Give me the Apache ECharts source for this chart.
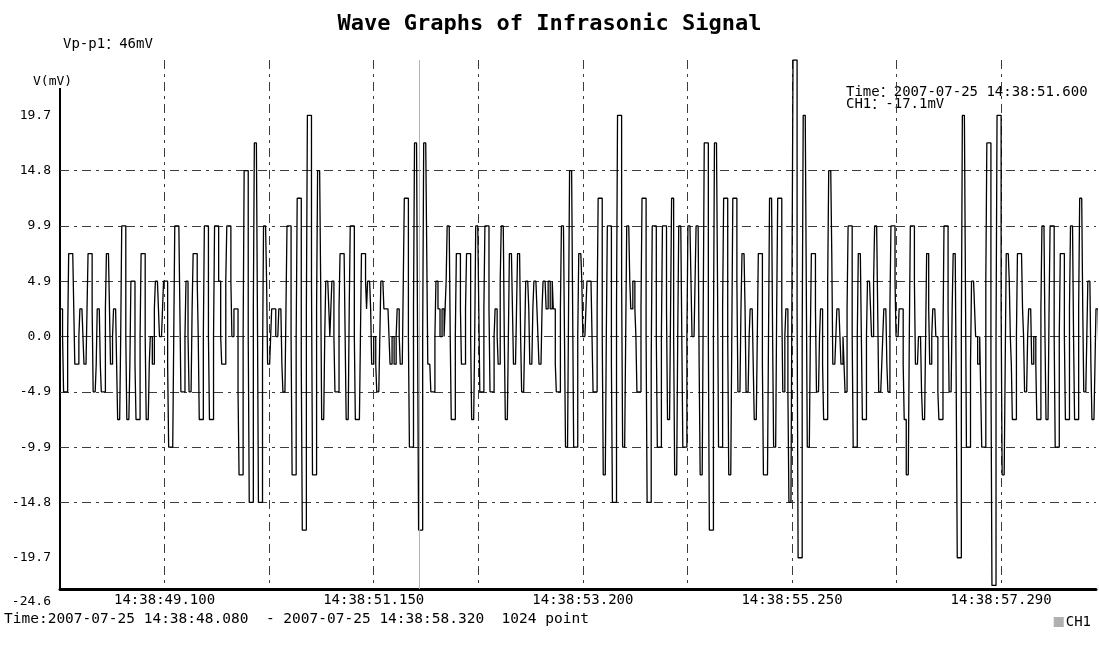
<!DOCTYPE html>
<html>
<head>
<meta charset="utf-8">
<title>Wave Graphs of Infrasonic Signal</title>
<script src="https://cdn.jsdelivr.net/npm/echarts@6/dist/echarts.min.js"></script>
<style>
  html, body { margin: 0; padding: 0; background: #fff; }
  .echarts_1 { width: 1099px; height: 655px; }
</style>
</head>
<body>
<div class="echarts_1"></div>
<script>
// ADC codes, one per sample (10 ms apart); 1 code = 2.46 mV
var codes = [
  1,1,0,-2,-2,-2,-2,0,3,3, 3,3,3,1,-1,-1,-1,-1,0,1,
  1,1,0,-1,-1,-1,1,3,3,3, 3,1,-2,-2,-2,-1,1,1,1,-1,
  -2,-2,-2,-2,1,3,3,3,1,-1, -1,0,1,1,1,-1,-3,-3,-3,0,
  4,4,4,4,0,-3,-3,-3,-1,2, 2,2,2,-1,-3,-3,-3,-3,0,3,
  3,3,3,0,-3,-3,-3,-1,0,0, -1,-1,1,2,2,2,1,0,0,0,
  1,2,2,2,2,-1,-4,-4,-4,-4, -4,0,4,4,4,4,4,1,-2,-2,
  -2,-2,0,2,2,0,-2,-2,-2,1, 3,3,3,3,2,0,-3,-3,-3,-3,
  0,4,4,4,4,0,-3,-3,-3,-3, 0,4,4,4,4,2,2,0,-1,-1,
  -1,-1,2,4,4,4,4,2,0,0, 1,1,1,1,-2,-5,-5,-5,-5,0,
  6,6,6,6,0,-6,-6,-6,-6,1, 7,7,7,1,-6,-6,-6,-6,-1,4,
  4,4,2,-1,-1,-1,0,1,1,1, 1,0,0,0,1,1,1,-1,-2,-2,
  -2,1,4,4,4,4,0,-5,-5,-5, -5,0,5,5,5,5,-1,-7,-7,-7,
  -7,1,8,8,8,8,2,-5,-5,-5, -5,1,6,6,6,2,-3,-3,-3,0,
  2,2,2,1,0,1,2,2,0,-2, -2,-2,-2,1,3,3,3,3,3,0,
  -3,-3,-3,1,4,4,4,4,0,-3, -3,-3,-3,-3,0,3,3,3,3,2,
  1,2,2,2,1,-1,-1,0,0,-1, -2,-2,-2,0,2,2,2,1,1,1,
  1,1,0,-1,-1,0,0,-1,-1,0, 1,1,0,-1,-1,-1,2,5,5,5,
  5,0,-4,-4,-4,-4,1,7,7,7, 0,-7,-7,-7,-7,0,7,7,7,3,
  -1,-1,-1,-2,-2,-2,-2,0,2,2, 1,1,0,0,1,1,0,1,2,4,
  4,4,0,-3,-3,-3,-3,0,3,3, 3,3,1,-1,-1,-1,-1,1,3,3,
  3,3,0,-3,-3,-3,0,4,4,4, 1,-2,-2,-2,-2,1,4,4,4,4,
  1,-2,-2,-2,-2,0,1,1,0,-1, -1,2,4,4,4,0,-3,-3,-3,0,
  3,3,3,1,-1,-1,-1,1,3,3, 3,0,-2,-2,-2,0,2,2,2,1,
  -1,-1,-1,1,2,2,2,1,0,-1, -1,-1,1,2,2,2,1,1,2,2,
  1,1,2,1,1,-1,-2,-2,-2,-2, 1,4,4,4,0,-4,-4,-4,1,6,
  6,6,1,-4,-4,-4,-4,0,3,3, 3,2,0,0,0,1,2,2,2,2,
  2,0,-2,-2,-2,-2,1,5,5,5, 5,0,-5,-5,-5,0,4,4,4,4,
  -1,-6,-6,-6,-6,1,8,8,8,8, 2,-4,-4,-4,0,4,4,4,2,1,
  1,2,2,1,0,-2,-2,-2,-2,1, 5,5,5,5,0,-6,-6,-6,-6,-1,
  4,4,4,4,0,-4,-4,-4,-4,0, 4,4,4,4,1,-3,-3,-3,1,5,
  5,0,-5,-5,-5,0,4,4,4,0, -4,-4,-4,-4,0,4,4,4,2,0,
  0,0,2,4,4,4,-1,-5,-5,-5, 1,7,7,7,7,0,-7,-7,-7,-7,
  0,7,7,7,2,-4,-4,-4,-4,1, 5,5,5,5,0,-5,-5,-5,0,5,
  5,5,5,2,-2,-2,-2,1,3,3, 3,1,-2,-2,-2,0,1,1,1,-1,
  -3,-3,-3,0,3,3,3,3,-1,-5, -5,-5,-5,-5,0,5,5,5,0,-4,
  -4,-4,1,5,5,5,5,1,-2,-2, 0,1,1,-2,-6,-6,-6,2,10,10,
  10,10,1,-8,-8,-8,-8,0,8,8, 8,2,-4,-4,-4,0,3,3,3,3,
  1,-2,-2,-2,0,1,1,-1,-3,-3, -3,-3,2,6,6,6,3,-1,-1,-1,
  0,1,1,1,0,-1,-1,0,-1,-2, -2,1,4,4,4,4,0,-4,-4,-4,
  -4,0,3,3,3,0,-3,-3,-3,-3, 0,2,2,2,1,0,0,2,4,4,
  4,1,-2,-2,-2,-1,0,1,1,1, -1,-2,-2,1,4,4,4,4,2,0,
  0,0,1,1,1,1,-1,-3,-3,-5, -5,-5,0,4,4,4,4,2,-1,-1,
  -1,0,0,0,-2,-3,-3,-3,0,3, 3,1,-1,-1,0,1,1,1,0,0,
  -2,-3,-3,-3,-3,0,4,4,4,4, 1,-2,-2,-2,1,3,3,3,-2,-8,
  -8,-8,-8,0,8,8,8,2,-4,-4, -4,-4,-1,2,2,2,1,0,0,-1,
  -1,0,-2,-4,-4,-4,-4,2,7,7, 7,7,-1,-9,-9,-9,-9,0,8,8,
  8,8,1,-5,-5,-5,-1,3,3,3, 2,0,-1,-3,-3,-3,-3,0,3,3,
  3,3,3,1,0,-2,-2,-2,0,1, 1,1,-1,-1,0,0,-1,-3,-3,-3,
  -3,1,4,4,4,0,-3,-3,-3,1, 4,4,4,4,0,-4,-4,-4,-4,0,
  3,3,3,3,0,-3,-3,-3,-3,1, 4,4,4,0,-3,-3,-3,-3,1,5,
  5,5,1,-2,-2,-2,0,2,2,2, -1,-3,-3,-3,-1,1,1,1,-1,-2,
  -2,-1,0,1
];

// axis texts (code value -> label)
var yTickCodes = [-8, -6, -4, -2, 0, 2, 4, 6, 8];
var yTickLabels = ['-19.7', '-14.8', '-9.9', '-4.9', '0.0', '4.9', '9.9', '14.8', '19.7'];
var yBottomLabel = '-24.6';
var xTickLabels = ['14:38:49.100', '14:38:51.150', '14:38:53.200', '14:38:55.250', '14:38:57.290'];
var samplesPerDiv = 102.5;   // one vertical grid division
var cursorSample = 352;      // 14:38:51.600
var cursorText = ['Time\uff1a2007-07-25 14:38:51.600', 'CH1\uff1a-17.1mV'];

var yMin = -9.13, yMax = 10;
var mono = "'DejaVu Sans Mono', 'Noto Sans CJK SC', monospace";
var dashDot = [9, 5, 3, 5];

var points = codes.map(function (v, i) { return [i, v]; });

var myChart = echarts.init(document.querySelector('.echarts_1'));

var option = {
  animation: false,
  backgroundColor: '#fff',
  title: {
    text: 'Wave Graphs of Infrasonic Signal',
    left: 'center',
    top: 8,
    textStyle: { fontFamily: mono, fontSize: 22, fontWeight: 'bold', color: '#000' }
  },
  legend: {
    data: ['CH1'],
    right: 3,
    top: 610,
    icon: 'rect',
    itemWidth: 10,
    itemHeight: 10,
    itemGap: 4,
    itemStyle: { color: '#b0b0b0' },
    textStyle: { fontFamily: mono, fontSize: 14, color: '#000', padding: [0, 0, 0, -3] }
  },
  grid: { left: 60, right: 1, top: 60, bottom: 66 },
  xAxis: {
    type: 'value',
    min: -0.5,
    max: 1015,
    interval: samplesPerDiv,
    axisLine: { onZero: false, lineStyle: { color: '#000', width: 3 } },
    axisTick: { show: false },
    axisLabel: {
      margin: 4,
      fontFamily: mono,
      fontSize: 14,
      color: '#000',
      formatter: function (v) {
        var k = Math.round((v + 0.5) / samplesPerDiv);
        if (k % 2 === 1 && xTickLabels[(k - 1) / 2]) return xTickLabels[(k - 1) / 2];
        return '';
      }
    },
    splitLine: {
      show: true,
      showMinLine: false,
      showMaxLine: false,
      lineStyle: { color: '#3c3c3c', width: 1, type: dashDot }
    }
  },
  yAxis: {
    type: 'value',
    min: yMin,
    max: yMax,
    axisLine: { show: false, onZero: false },
    axisTick: { show: false, customValues: yTickCodes },
    axisLabel: {
      margin: 9,
      fontFamily: mono,
      fontSize: 13,
      color: '#000',
      customValues: [yMin].concat(yTickCodes),
      formatter: function (v) {
        if (v <= yMin) return '{low|' + yBottomLabel + '}';
        var k = yTickCodes.indexOf(Math.round(v));
        return k >= 0 ? yTickLabels[k] : '';
      },
      rich: { low: { fontFamily: mono, fontSize: 13, color: '#000', padding: [26, 0, 0, 0] } }
    },
    splitLine: {
      show: true,
      showMinLine: false,
      showMaxLine: false,
      lineStyle: { color: '#3c3c3c', width: 1, type: dashDot }
    }
  },
  graphic: [
    { type: 'text', left: 63, top: 37,
      style: { text: 'Vp-p1\uff1a46mV', font: '14px ' + mono, fill: '#000' } },
    { type: 'text', left: 33, top: 75,
      style: { text: 'V(mV)', font: '13px ' + mono, fill: '#000' } },
    // left axis starts below the V(mV) caption
    { type: 'line', shape: { x1: 60, y1: 88, x2: 60, y2: 589 },
      style: { stroke: '#000', lineWidth: 2 } },
    { type: 'text', left: 846, top: 85,
      style: { text: cursorText[0], font: '14px ' + mono, fill: '#000' } },
    { type: 'text', left: 846, top: 97,
      style: { text: cursorText[1], font: '14px ' + mono, fill: '#000' } },
    { type: 'text', left: 4, top: 612,
      style: { text: 'Time:2007-07-25 14:38:48.080  - 2007-07-25 14:38:58.320  1024 point',
               font: '14.5px ' + mono, fill: '#000' } }
  ],
  series: [{
    name: 'CH1',
    type: 'line',
    step: 'end',
    data: points,
    showSymbol: false,
    clip: true,
    lineStyle: { color: '#000', width: 1.3 },
    itemStyle: { color: '#000' },
    markLine: {
      silent: true,
      symbol: 'none',
      label: { show: false },
      lineStyle: { color: '#b4b4b4', type: 'solid', width: 1 },
      data: [{ xAxis: cursorSample }]
    }
  }]
};

myChart.setOption(option);
</script>
</body>
</html>
